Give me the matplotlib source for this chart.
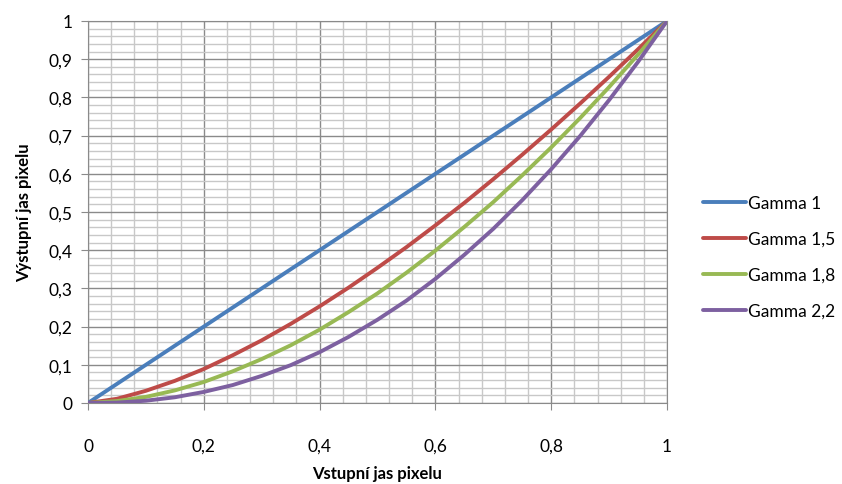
import numpy as np
import matplotlib
matplotlib.use("Agg")
import matplotlib.pyplot as plt
from matplotlib.ticker import MultipleLocator, FuncFormatter

plt.rcParams['font.family'] = ['Lato', 'DejaVu Sans']

x_vals = [0, 0.05, 0.1, 0.15, 0.2, 0.25, 0.3, 0.35, 0.4, 0.45, 0.5,
          0.55, 0.6, 0.65, 0.7, 0.75, 0.8, 0.85, 0.9, 0.95, 1]
gamma_1 = [0, 0.05, 0.1, 0.15, 0.2, 0.25, 0.3, 0.35, 0.4, 0.45, 0.5,
           0.55, 0.6, 0.65, 0.7, 0.75, 0.8, 0.85, 0.9, 0.95, 1]
gamma_15 = [0, 0.011, 0.032, 0.058, 0.089, 0.125, 0.164, 0.207, 0.253, 0.302, 0.354,
            0.408, 0.465, 0.524, 0.586, 0.650, 0.716, 0.784, 0.854, 0.926, 1]
gamma_18 = [0, 0.005, 0.016, 0.033, 0.055, 0.083, 0.115, 0.151, 0.192, 0.238, 0.287,
            0.341, 0.399, 0.461, 0.526, 0.596, 0.669, 0.746, 0.827, 0.912, 1]
gamma_22 = [0, 0.001, 0.006, 0.015, 0.029, 0.047, 0.071, 0.099, 0.133, 0.173, 0.218,
            0.268, 0.325, 0.388, 0.456, 0.531, 0.612, 0.699, 0.793, 0.893, 1]

series = [
    ("Gamma 1", gamma_1, "#4A7EBB"),
    ("Gamma 1,5", gamma_15, "#BE4B48"),
    ("Gamma 1,8", gamma_18, "#98B954"),
    ("Gamma 2,2", gamma_22, "#7D60A0"),
]

fig = plt.figure(figsize=(8.42, 4.85), dpi=100)
ax = fig.add_axes([88 / 842, 81 / 485, 579 / 842, 382 / 485])

for label, ys, color in series:
    ax.plot(x_vals, ys, color=color, lw=2.8, label=label, solid_capstyle='round', zorder=3)

ax.set_xlim(0, 1)
ax.set_ylim(0, 1)
ax.xaxis.set_major_locator(MultipleLocator(0.2))
ax.xaxis.set_minor_locator(MultipleLocator(0.04))
ax.yaxis.set_major_locator(MultipleLocator(0.1))
ax.yaxis.set_minor_locator(MultipleLocator(0.02))

fmt = FuncFormatter(lambda v, p: f"{v:.1f}".rstrip('0').rstrip('.').replace('.', ',') if v not in (0, 1) else f"{int(round(v))}")
ax.xaxis.set_major_formatter(fmt)
ax.yaxis.set_major_formatter(fmt)

ax.grid(which='minor', color='#c8c8c8', lw=1.0, zorder=1)
ax.grid(which='major', color='#8a8a8a', lw=1.0, zorder=2)
for s in ax.spines.values():
    s.set_color('#8a8a8a')
ax.tick_params(which='major', length=5, color='#8a8a8a', labelsize=12.5)
ax.tick_params(which='minor', length=0)
ax.tick_params(axis='x', pad=20)
ax.tick_params(axis='y', pad=6)

ax.set_xlabel("Vstupní jas pixelu", fontsize=12, fontweight='bold', labelpad=8)
ax.set_ylabel("Výstupní jas pixelu", fontsize=12, fontweight='bold', labelpad=12)

ax.legend(loc='center left', bbox_to_anchor=(1.035, 0.382), frameon=False,
          fontsize=12.5, handlelength=2.5, handletextpad=0.1, labelspacing=1.15)

fig.savefig("out.png", dpi=100)
